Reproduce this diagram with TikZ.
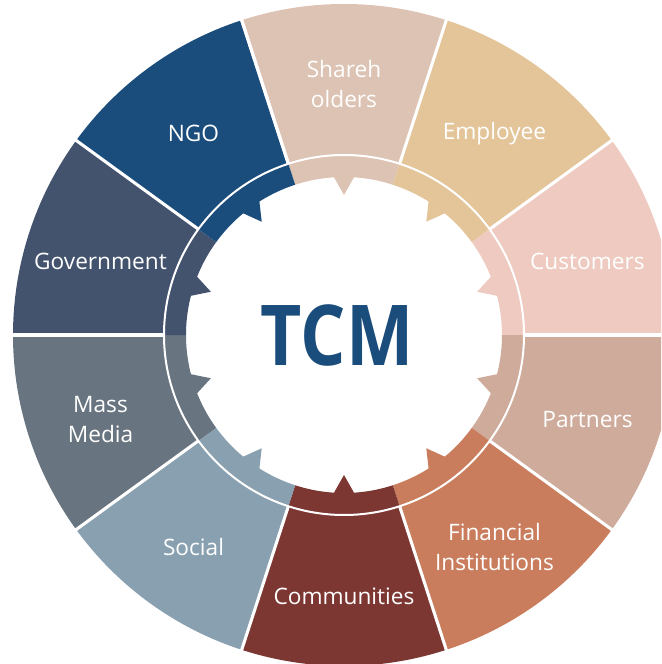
\documentclass[tikz,border=0pt]{standalone}
\usepackage{fontspec}
\setmainfont{Open Sans}
\usetikzlibrary{positioning}

\definecolor{shareC}{HTML}{DDC3B3}
\definecolor{emplC}{HTML}{E3C599}
\definecolor{custC}{HTML}{EECAC0}
\definecolor{partC}{HTML}{CFAB9C}
\definecolor{finC}{HTML}{C97D5D}
\definecolor{commC}{HTML}{7D3732}
\definecolor{socC}{HTML}{88A0B0}
\definecolor{mediaC}{HTML}{68747F}
\definecolor{govC}{HTML}{43536E}
\definecolor{ngoC}{HTML}{1B4D7C}

\tikzset{
  seglabel/.style={text=white, align=center, yshift=-4pt, font=\fontsize{17}{22.5}\selectfont},
  hub/.style={text=ngoC, font=\fontsize{63}{70}\selectfont\bfseries},
  gap/.style={white, line width=2.3pt},
}

\begin{document}
\begin{tikzpicture}[x=0.75pt, y=0.75pt]
  \clip (-344,-329) rectangle (317,335);
  \fill[white] (-344,-329) rectangle (317,335);
  % ring segments, inner teeth and captions
  \foreach \a/\col/\txt [count=\i] in {90/shareC/{Shareh\\olders}, 54/emplC/Employee,
      18/custC/Customers, -18/partC/Partners, -54/finC/{Financial\\Institutions},
      -90/commC/Communities, -126/socC/Social, -162/mediaC/{Mass\\Media},
      162/govC/Government, 126/ngoC/NGO}{
    \fill[\col] (\a-18:158) arc[start angle=\a-18, end angle=\a+18, radius=158]
      -- (\a+18:331) arc[start angle=\a+18, end angle=\a-18, radius=331] -- cycle;
    \fill[\col] (\a-3.8:159) -- (\a:140) -- (\a+3.8:159) -- cycle;
    \node[seglabel] (seg\i) at (\a:256) {\txt};
  }
  % white gaps between the outer pieces
  \foreach \b in {108,72,...,-252}
    \draw[gap] (\b:180) -- (\b:345);
  \draw[white, line width=1.5pt] (0,0) circle[radius=180];
  \node[hub] (tcm) at (-7,0) {\scalebox{0.85}[1]{TCM}};
\end{tikzpicture}
\end{document}
